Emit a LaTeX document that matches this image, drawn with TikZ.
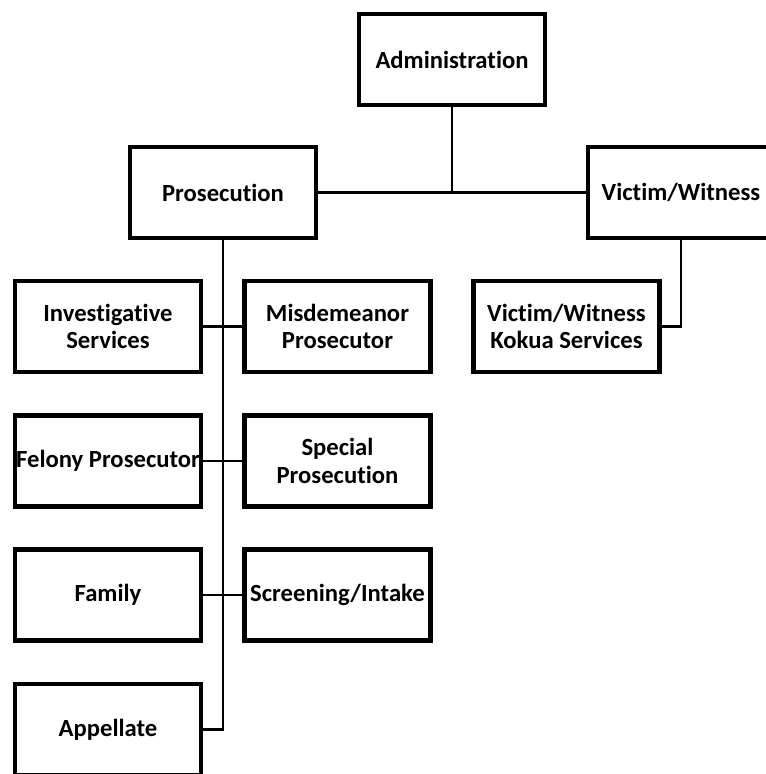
\documentclass[tikz,border=0pt]{standalone}
\usepackage{fontspec}
\setmainfont[Ligatures={NoCommon}]{Carlito}
\begin{document}
\begin{tikzpicture}[x=0.75pt,y=-0.75pt,
  box/.style={draw=black,line width=3.2pt,minimum width=139.5pt,minimum height=68.25pt,
    inner sep=0pt,outer sep=0pt,align=center,font=\fontsize{18.5}{20.5}\selectfont\bfseries},
  conn/.style={draw=black,line width=2.2pt}]
\useasboundingbox (0,0) rectangle (766,774);
\clip (0,0) rectangle (766,774);
\node[box] (adm) at (452,59.5) {Administration};
\node[box] (pro) at (223,192.5) {Prosecution};
\node[box] (vw) at (681,192.5) {Victim/Witness};
\node[box] (inv) at (108,326.5) {Investigative\\Services};
\node[box] (mis) at (337.5,326.5) {Misdemeanor\\Prosecutor};
\node[box] (kok) at (566.5,326.5) {Victim/Witness\\Kokua Services};
\node[box] (fel) at (108,461) {Felony Prosecutor};
\node[box] (spe) at (337.5,461) {Special\\Prosecution};
\node[box] (fam) at (108,595) {Family};
\node[box] (scr) at (337.5,595) {Screening/Intake};
\node[box] (app) at (108,729.5) {Appellate};
\draw[conn] (pro.east) -- (vw.west);
\draw[conn] (adm.south) -- (adm.south |- pro.east);
\draw[conn] (pro.south) |- (app.east);
\draw[conn] (inv.east) -- (mis.west);
\draw[conn] (fel.east) -- (spe.west);
\draw[conn] (fam.east) -- (scr.west);
\draw[conn] (vw.south) |- (kok.east);
\end{tikzpicture}
\end{document}
